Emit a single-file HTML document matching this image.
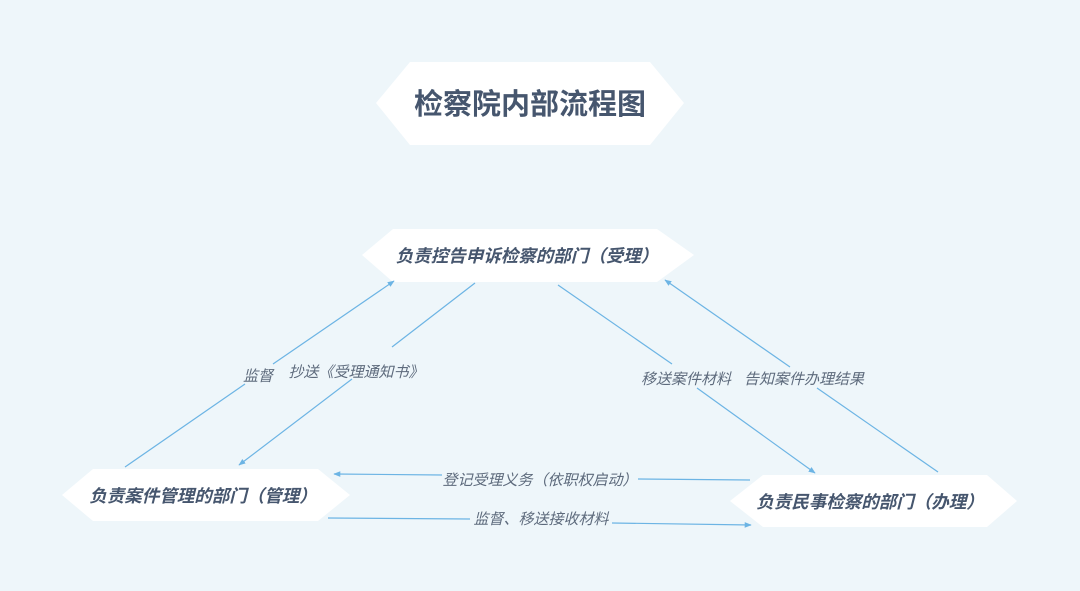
<!DOCTYPE html>
<html><head><meta charset="utf-8"><style>
html,body{margin:0;padding:0;background:#eef6fa;}
svg{display:block}
text{font-family:"Liberation Sans","Noto Sans CJK SC",sans-serif;}
</style></head><body>
<svg width="1080" height="591" viewBox="0 0 1080 591" xmlns="http://www.w3.org/2000/svg">
<defs>
<marker id="a" viewBox="0 0 10 10" refX="9" refY="5" markerWidth="7" markerHeight="7" orient="auto-start-reverse" markerUnits="userSpaceOnUse">
<path d="M0,1 L10,5 L0,9 z" fill="#6cb4e4"/></marker>
</defs>
<rect width="1080" height="591" fill="#eef6fa"/>
<polygon points="376,103 410,62 650,62 684,103 650,145 410,145" fill="#fff"/>
<text x="530" y="114" text-anchor="middle" font-size="29" font-weight="bold" fill="#46566e">检察院内部流程图</text>
<polygon points="362,255 393,229 657,229 694,255 657,282 393,282" fill="#fff"/>
<text x="527" y="262" text-anchor="middle" font-size="17.5" font-weight="bold" font-style="italic" fill="#46566e">负责控告申诉检察的部门（受理）</text>
<polygon points="62,495 93,469 318,469 350,495 318,521 93,521" fill="#fff"/>
<text x="203" y="502" text-anchor="middle" font-size="17.5" font-weight="bold" font-style="italic" fill="#46566e">负责案件管理的部门（管理）</text>
<polygon points="730,501 763,475 987,475 1017,501 987,527 763,527" fill="#fff"/>
<text x="870" y="508" text-anchor="middle" font-size="17.5" font-weight="bold" font-style="italic" fill="#46566e">负责民事检察的部门（办理）</text>
<g stroke="#6cb4e4" stroke-width="1.2" fill="none">
<path d="M125,467 L245,384" /><path d="M273,364 L394,281" marker-end="url(#a)"/>
<path d="M475,283 L392,347" /><path d="M352,379 L239,465" marker-end="url(#a)"/>
<path d="M558,285 L672,364" /><path d="M697,388 L815,473" marker-end="url(#a)"/>
<path d="M938,472 L817,388" /><path d="M790,367 L665,280" marker-end="url(#a)"/>
<path d="M750,480 L638,479" /><path d="M442,475 L334,474" marker-end="url(#a)"/>
<path d="M328,518 L470,519" /><path d="M612,523 L751,525" marker-end="url(#a)"/>
</g>
<g font-size="15" font-style="italic" fill="#5d6a7c">
<text x="258" y="381" text-anchor="middle">监督</text>
<text x="356" y="377" text-anchor="middle">抄送《受理通知书》</text>
<text x="686" y="384" text-anchor="middle">移送案件材料</text>
<text x="804" y="384" text-anchor="middle">告知案件办理结果</text>
<text x="540" y="485" text-anchor="middle">登记受理义务（依职权启动）</text>
<text x="541" y="524" text-anchor="middle">监督、移送接收材料</text>
</g>
</svg>
</body></html>
